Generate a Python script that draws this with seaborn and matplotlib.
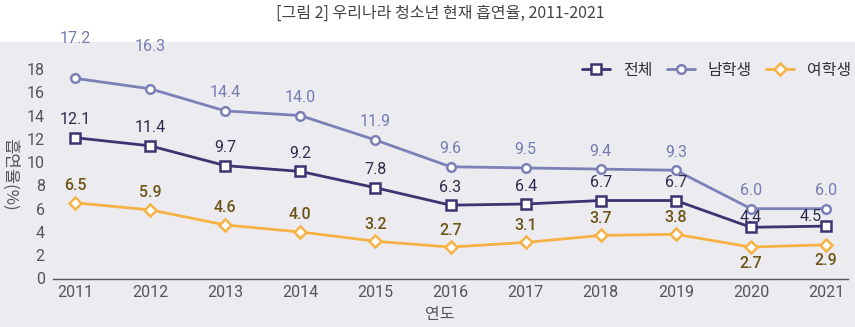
import matplotlib
matplotlib.use("Agg")
import matplotlib.pyplot as plt
import seaborn as sns
import pandas as pd
from matplotlib.patches import Rectangle

years = [2011, 2012, 2013, 2014, 2015, 2016, 2017, 2018, 2019, 2020, 2021]
total = [12.1, 11.4, 9.7, 9.2, 7.8, 6.3, 6.4, 6.7, 6.7, 4.4, 4.5]
male = [17.2, 16.3, 14.4, 14.0, 11.9, 9.6, 9.5, 9.4, 9.3, 6.0, 6.0]
female = [6.5, 5.9, 4.6, 4.0, 3.2, 2.7, 3.1, 3.7, 3.8, 2.7, 2.9]
series_names = ["전체", "남학생", "여학생"]
yticks = [0, 2, 4, 6, 8, 10, 12, 14, 16, 18]

# label offsets (pixels)
off_total = [(0, 18)] * 9 + [(0, 10), (-15, 10)]
off_male = [(0, 40), (0, 42)] + [(0, 18)] * 9
off_female = [(0, 17)] * 9 + [(0, -16), (0, -16)]

sns.set_theme(style="white")
plt.rcParams['font.family'] = ['Noto Sans CJK KR', 'DejaVu Sans']

W, H = 855, 327
fig = plt.figure(figsize=(W / 100, H / 100), dpi=100, facecolor="white")
fig.patches.append(Rectangle((0, 0), 1, (H - 42) / H, transform=fig.transFigure,
                             facecolor="#ebebf0", edgecolor="none", zorder=-10))

# axes placement (pixels)
ax_left, ax_right = 53, 848
y0_px, y18_px = 278.5, 69
ppu = (y0_px - y18_px) / 18
ymax = 19.2
ax_top = y0_px - ymax * ppu
ax = fig.add_axes([ax_left / W, 1 - y0_px / H, (ax_right - ax_left) / W, (y0_px - ax_top) / H])
ax.set_facecolor("none")

df = pd.DataFrame({"year": years * 3,
                   "value": total + male + female,
                   "series": [series_names[0]] * 11 + [series_names[1]] * 11 + [series_names[2]] * 11})

colors = {"전체": "#3b3470", "남학생": "#7c80b6", "여학생": "#f6b244"}
markers = {"전체": "s", "남학생": "o", "여학생": "D"}
msizes = {"전체": 6.8, "남학생": 6.2, "여학생": 6.3}
lab_colors = {"전체": "#2e2b4e", "남학생": "#767cb3", "여학생": "#6e5316"}
lab_weights = {"전체": "normal", "남학생": "normal", "여학생": "medium"}
offsets = {"전체": off_total, "남학생": off_male, "여학생": off_female}

for name in series_names:
    sub = df[df.series == name]
    sns.lineplot(data=sub, x="year", y="value", ax=ax, color=colors[name],
                 marker=markers[name], markersize=msizes[name], markerfacecolor="white",
                 markeredgecolor=colors[name], markeredgewidth=1.8, linewidth=2.0,
                 label=name, zorder=3)
    for (x, y), (dx, dy) in zip(zip(sub.year, sub.value), offsets[name]):
        ax.annotate(f"{y:.1f}", (x, y), xytext=(dx, dy), textcoords="offset pixels",
                    ha="center", va="center", fontsize=11.5, color=lab_colors[name],
                    fontweight=lab_weights[name],
                    family=['Roboto', 'DejaVu Sans'], zorder=4)

ax.set_xlim(2011 - (75 - ax_left) / 75, 2021 + (ax_right - 826) / 75)
ax.set_ylim(0, ymax)
ax.set_xticks(years)
ax.set_xticklabels([str(y) for y in years])
ax.set_yticks(yticks)
ax.tick_params(axis="both", length=0, labelsize=11.5, labelcolor="#555555")
ax.tick_params(axis="x", pad=5)
ax.tick_params(axis="y", pad=6)
for lbl in ax.get_xticklabels() + ax.get_yticklabels():
    lbl.set_family(['Roboto', 'DejaVu Sans'])
for s in ["left", "top", "right"]:
    ax.spines[s].set_visible(False)
ax.spines["bottom"].set_color("#555555")
ax.spines["bottom"].set_linewidth(1.0)
ax.set_xlabel("")
ax.set_ylabel("")

leg = ax.legend(loc="center right", bbox_to_anchor=(851 / W, 1 - 70 / H),
                bbox_transform=fig.transFigure, ncol=3, frameon=False, fontsize=11.5,
                handlelength=1.75, columnspacing=0.9, handletextpad=0.8,
                borderpad=0, borderaxespad=0)
for t in leg.get_texts():
    t.set_color("#333333")

fig.text(440 / W, 1 - 13 / H, "[그림 2] 우리나라 청소년 현재 흡연율, 2011-2021",
         ha="center", va="center", fontsize=11.5, color="#444444")
fig.text(10 / W, 1 - 174 / H, "흡연율(%)", rotation=270, ha="center", va="center",
         fontsize=12, color="#555555")
fig.text(440 / W, 1 - 315 / H, "연도", ha="center", va="center", fontsize=11.5, color="#555555")

fig.savefig("out.png", dpi=100, facecolor="white")
